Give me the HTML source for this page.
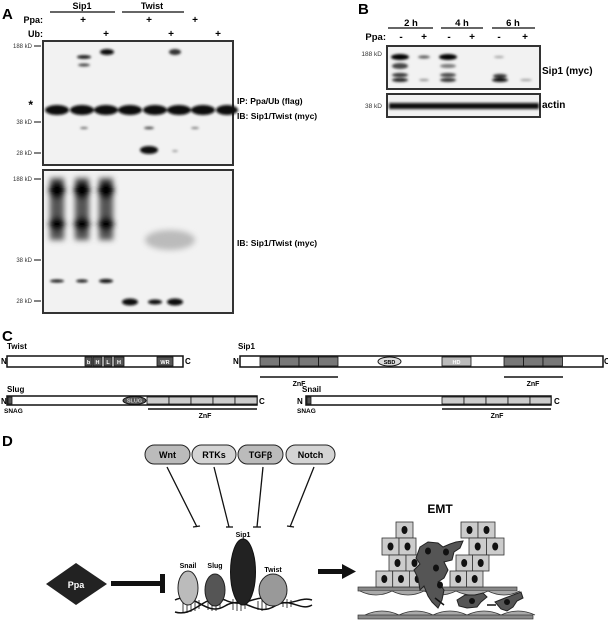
<!DOCTYPE html>
<html><head><meta charset="utf-8"><style>
html,body{margin:0;padding:0;background:#fff}
svg{display:block}
text{font-family:"Liberation Sans",sans-serif}
</style></head><body>
<svg width="608" height="620" viewBox="0 0 608 620" xmlns="http://www.w3.org/2000/svg">
<defs>
<filter id="b1" x="-50%" y="-50%" width="200%" height="200%"><feGaussianBlur stdDeviation="1.2"/></filter>
<filter id="b3" x="-50%" y="-50%" width="200%" height="200%"><feGaussianBlur stdDeviation="3"/></filter>
</defs>

<!-- Panel A -->
<text x="2" y="19" font-size="15" font-weight="bold">A</text>
<line x1="50" y1="12" x2="115" y2="12" stroke="#333" stroke-width="1.5"/>
<line x1="122" y1="12" x2="184" y2="12" stroke="#333" stroke-width="1.5"/>
<text x="82" y="9" font-size="9" font-weight="bold" text-anchor="middle">Sip1</text>
<text x="152" y="9" font-size="9" font-weight="bold" text-anchor="middle">Twist</text>
<text x="43" y="23" font-size="9" font-weight="bold" text-anchor="end">Ppa:</text>
<text x="43" y="37" font-size="9" font-weight="bold" text-anchor="end">Ub:</text>
<g font-size="10" font-weight="bold" text-anchor="middle">
<text x="83" y="23">+</text><text x="149" y="23">+</text><text x="195" y="23">+</text>
<text x="106" y="37">+</text><text x="171" y="37">+</text><text x="218" y="37">+</text>
</g>
<rect x="43" y="41" width="190" height="124" fill="#f2f2f2" stroke="#333" stroke-width="2"/>
<g fill="#111" filter="url(#b1)">
<ellipse cx="57" cy="110" rx="12" ry="5"/><ellipse cx="82" cy="110" rx="12" ry="5"/>
<ellipse cx="106" cy="110" rx="12" ry="5"/><ellipse cx="130" cy="110" rx="12" ry="5"/>
<ellipse cx="155" cy="110" rx="12" ry="5"/><ellipse cx="179" cy="110" rx="12" ry="5"/>
<ellipse cx="203" cy="110" rx="12" ry="5"/><ellipse cx="227" cy="110" rx="11" ry="5"/>
<ellipse cx="84" cy="57" rx="7" ry="1.8"/><ellipse cx="84" cy="65" rx="6" ry="1.5" fill="#444"/>
<ellipse cx="107" cy="52" rx="7" ry="3"/><ellipse cx="175" cy="52" rx="6" ry="3" fill="#333"/>
<ellipse cx="149" cy="150" rx="9" ry="4"/>
<ellipse cx="84" cy="128" rx="4" ry="1" fill="#666"/><ellipse cx="149" cy="128" rx="5" ry="1.2" fill="#444"/>
<ellipse cx="195" cy="128" rx="4" ry="1" fill="#777"/><ellipse cx="175" cy="151" rx="3" ry="1" fill="#999"/>
</g>
<g font-size="6" fill="#333" text-anchor="end">
<text x="32" y="48">188 kD</text><text x="32" y="124">38 kD</text><text x="32" y="155">28 kD</text>
<text x="32" y="181">188 kD</text><text x="32" y="262">38 kD</text><text x="32" y="303">28 kD</text>
</g>
<g stroke="#333" stroke-width="1.2">
<line x1="34" y1="46" x2="41" y2="46"/><line x1="34" y1="122" x2="41" y2="122"/><line x1="34" y1="153" x2="41" y2="153"/>
<line x1="34" y1="179" x2="41" y2="179"/><line x1="34" y1="260" x2="41" y2="260"/><line x1="34" y1="301" x2="41" y2="301"/>
</g>
<text x="33" y="109" font-size="12" font-weight="bold" text-anchor="end">*</text>
<text x="237" y="104" font-size="8.5" font-weight="bold">IP: Ppa/Ub (flag)</text>
<text x="237" y="119" font-size="8.5" font-weight="bold">IB: Sip1/Twist (myc)</text>

<rect x="43" y="170" width="190" height="143" fill="#f2f2f2" stroke="#333" stroke-width="2"/>
<g filter="url(#b3)">
<rect x="50" y="178" width="14" height="62" fill="#555"/><rect x="75" y="178" width="14" height="62" fill="#555"/><rect x="99" y="178" width="14" height="62" fill="#555"/>
<ellipse cx="57" cy="190" rx="8" ry="9" fill="#000"/><ellipse cx="82" cy="190" rx="8" ry="9" fill="#000"/><ellipse cx="106" cy="190" rx="8" ry="9" fill="#000"/>
<ellipse cx="57" cy="224" rx="8" ry="7" fill="#000"/><ellipse cx="82" cy="224" rx="8" ry="7" fill="#000"/><ellipse cx="106" cy="224" rx="8" ry="7" fill="#000"/>
<ellipse cx="170" cy="240" rx="25" ry="10" fill="#bbb"/>
</g>
<g fill="#111" filter="url(#b1)">
<ellipse cx="57" cy="281" rx="7" ry="1.5"/><ellipse cx="82" cy="281" rx="6" ry="1.5"/><ellipse cx="106" cy="281" rx="7" ry="2"/>
<ellipse cx="130" cy="302" rx="8" ry="3.5"/><ellipse cx="155" cy="302" rx="7" ry="2.5"/><ellipse cx="175" cy="302" rx="8" ry="3.5"/>
</g>
<text x="237" y="246" font-size="8.5" font-weight="bold">IB: Sip1/Twist (myc)</text>

<!-- Panel B -->
<text x="358" y="14" font-size="15" font-weight="bold">B</text>
<line x1="388" y1="28" x2="433" y2="28" stroke="#333" stroke-width="1.5"/>
<line x1="441" y1="28" x2="483" y2="28" stroke="#333" stroke-width="1.5"/>
<line x1="492" y1="28" x2="535" y2="28" stroke="#333" stroke-width="1.5"/>
<g font-size="9.5" font-weight="bold" text-anchor="middle">
<text x="411" y="26">2 h</text><text x="462" y="26">4 h</text><text x="513" y="26">6 h</text>
</g>
<text x="386" y="40" font-size="9.5" font-weight="bold" text-anchor="end">Ppa:</text>
<g font-size="10" font-weight="bold" text-anchor="middle">
<text x="401" y="40">-</text><text x="424" y="40">+</text><text x="449" y="40">-</text><text x="472" y="40">+</text><text x="499" y="40">-</text><text x="525" y="40">+</text>
</g>
<rect x="387" y="46" width="153" height="43" fill="#f2f2f2" stroke="#333" stroke-width="2"/>
<g filter="url(#b1)">
<ellipse cx="400" cy="57" rx="9" ry="3" fill="#000"/><ellipse cx="400" cy="66" rx="8" ry="3" fill="#444"/>
<ellipse cx="400" cy="75" rx="8" ry="2" fill="#333"/><ellipse cx="400" cy="80" rx="8" ry="2" fill="#222"/>
<ellipse cx="424" cy="57" rx="6" ry="1.5" fill="#555"/><ellipse cx="424" cy="80" rx="5" ry="1" fill="#888"/>
<ellipse cx="448" cy="57" rx="9" ry="3" fill="#000"/><ellipse cx="448" cy="66" rx="8" ry="2" fill="#777"/>
<ellipse cx="448" cy="75" rx="8" ry="2" fill="#444"/><ellipse cx="448" cy="80" rx="8" ry="2" fill="#333"/>
<ellipse cx="499" cy="57" rx="5" ry="1" fill="#999"/><ellipse cx="500" cy="76" rx="7" ry="2" fill="#333"/><ellipse cx="500" cy="80" rx="8" ry="2" fill="#111"/>
<ellipse cx="526" cy="80" rx="6" ry="1" fill="#999"/>
</g>
<rect x="387" y="94" width="153" height="23" fill="#f2f2f2" stroke="#333" stroke-width="2"/>
<rect x="389" y="103" width="150" height="6" fill="#111" filter="url(#b1)"/>
<text x="382" y="56" font-size="6.5" fill="#333" text-anchor="end">188 kD</text>
<text x="382" y="108" font-size="6.5" fill="#333" text-anchor="end">38 kD</text>
<text x="542" y="74" font-size="10" font-weight="bold">Sip1 (myc)</text>
<text x="542" y="108" font-size="10" font-weight="bold">actin</text>

<!-- Panel C -->
<text x="2" y="341" font-size="15" font-weight="bold">C</text>
<g font-size="8" font-weight="bold">
<text x="7" y="349">Twist</text><text x="238" y="349">Sip1</text><text x="7" y="392">Slug</text><text x="302" y="392">Snail</text>
<text x="1" y="364">N</text><text x="185" y="364">C</text>
<text x="233" y="364">N</text><text x="604" y="364">C</text>
<text x="1" y="404">N</text><text x="259" y="404">C</text>
<text x="297" y="404">N</text><text x="554" y="404">C</text>
</g>
<g stroke="#111" stroke-width="1.5" fill="#fff">
<rect x="7" y="356" width="176" height="11"/>
<rect x="240" y="356" width="363" height="11"/>
<rect x="7" y="396" width="250" height="9"/>
<rect x="306" y="396" width="245" height="9"/>
</g>
<g fill="#555" stroke="#111" stroke-width="0.8">
<rect x="85" y="357" width="7" height="9"/><rect x="93" y="357" width="9" height="9"/><rect x="104" y="357" width="8" height="9"/><rect x="114" y="357" width="10" height="9"/>
<rect x="157" y="357" width="16" height="9"/>
<rect x="260" y="357" width="19.5" height="9" fill="#777"/><rect x="279.5" y="357" width="19.5" height="9" fill="#777"/><rect x="299" y="357" width="19.5" height="9" fill="#777"/><rect x="318.5" y="357" width="19.5" height="9" fill="#777"/>
<rect x="504" y="357" width="19.5" height="9" fill="#777"/><rect x="523.5" y="357" width="19.5" height="9" fill="#777"/><rect x="543" y="357" width="19.5" height="9" fill="#777"/>
<rect x="442" y="357" width="29" height="9" fill="#bbb"/>
<rect x="8" y="397" width="4" height="7"/><rect x="307" y="397" width="4" height="7"/>
<rect x="147" y="397" width="22" height="7" fill="#ccc"/><rect x="169" y="397" width="22" height="7" fill="#ccc"/><rect x="191" y="397" width="22" height="7" fill="#ccc"/><rect x="213" y="397" width="22" height="7" fill="#ccc"/><rect x="235" y="397" width="22" height="7" fill="#ccc"/>
<rect x="442" y="397" width="22" height="7" fill="#ccc"/><rect x="464" y="397" width="22" height="7" fill="#ccc"/><rect x="486" y="397" width="22" height="7" fill="#ccc"/><rect x="508" y="397" width="22" height="7" fill="#ccc"/><rect x="530" y="397" width="21" height="7" fill="#ccc"/>
</g>
<ellipse cx="389.5" cy="361.5" rx="11.5" ry="4.5" fill="#ddd" stroke="#111"/>
<ellipse cx="134.5" cy="400.5" rx="11.5" ry="4" fill="#555" stroke="#111"/>
<g font-size="5.5" font-weight="bold" text-anchor="middle">
<text x="88.5" y="364" fill="#fff">b</text><text x="97.5" y="364" fill="#fff">H</text><text x="108" y="364" fill="#fff">L</text><text x="119" y="364" fill="#fff">H</text><text x="165" y="364" fill="#fff">WR</text>
<text x="389.5" y="364">SBD</text><text x="456.5" y="364" fill="#fff">HD</text><text x="134.5" y="402.5" fill="#ccc">SLUG</text>
</g>
<g stroke="#111" stroke-width="1.5">
<line x1="260" y1="377" x2="338" y2="377"/><line x1="504" y1="377" x2="563" y2="377"/>
<line x1="148" y1="409" x2="257" y2="409"/><line x1="442" y1="409" x2="551" y2="409"/>
</g>
<g font-size="7" font-weight="bold" text-anchor="middle">
<text x="299" y="386">ZnF</text><text x="533" y="386">ZnF</text><text x="205" y="418">ZnF</text><text x="497" y="418">ZnF</text>
</g>
<g font-size="6.5" font-weight="bold"><text x="4" y="413">SNAG</text><text x="297" y="413">SNAG</text></g>

<!-- Panel D -->
<text x="2" y="446" font-size="15" font-weight="bold">D</text>
<g fill="#ccc" stroke="#222" stroke-width="1">
<rect x="145" y="445" width="45" height="19" rx="9.5" fill="#bbb"/>
<rect x="192" y="445" width="44" height="19" rx="9.5" fill="#d4d4d4"/>
<rect x="238" y="445" width="45" height="19" rx="9.5" fill="#bbb"/>
<rect x="286" y="445" width="49" height="19" rx="9.5" fill="#d4d4d4"/>
</g>
<g font-size="9" font-weight="bold" text-anchor="middle">
<text x="167.5" y="458">Wnt</text><text x="214" y="458">RTKs</text><text x="260.5" y="458">TGFβ</text><text x="310.5" y="458">Notch</text>
</g>
<g stroke="#111" stroke-width="1.3">
<line x1="167" y1="467" x2="197" y2="527"/><line x1="193" y1="527" x2="200" y2="526"/>
<line x1="214" y1="467" x2="229" y2="527"/><line x1="226" y1="527" x2="233" y2="527"/>
<line x1="263" y1="467" x2="257" y2="527"/><line x1="253" y1="527" x2="261" y2="527"/>
<line x1="314" y1="467" x2="290" y2="527"/><line x1="287" y1="526" x2="294" y2="527"/>
</g>
<polygon points="46,584 76,563 107,584 76,605" fill="#222"/>
<text x="76" y="588" font-size="9" font-weight="bold" fill="#fff" text-anchor="middle">Ppa</text>
<rect x="111" y="581" width="52" height="5" fill="#111"/>
<rect x="160" y="574" width="5" height="19" fill="#111"/>
<!-- DNA -->
<g stroke="#111" stroke-width="1.5" fill="none">
<path d="M175,600 C195,590 205,618 225,606 C245,594 255,618 275,606 C290,596 300,612 312,605"/>
<path d="M175,612 C195,618 205,592 225,600 C245,610 255,592 275,600 C290,608 300,596 312,600"/>
</g>
<g stroke="#111" stroke-width="0.8">
<line x1="183" y1="598" x2="183" y2="613"/><line x1="187" y1="597" x2="187" y2="613"/><line x1="191" y1="597" x2="191" y2="612"/><line x1="195" y1="598" x2="195" y2="611"/><line x1="199" y1="600" x2="199" y2="609"/><line x1="208" y1="601" x2="208" y2="610"/><line x1="212" y1="600" x2="212" y2="611"/><line x1="216" y1="600" x2="216" y2="611"/><line x1="220" y1="601" x2="220" y2="608"/><line x1="233" y1="599" x2="233" y2="610"/><line x1="237" y1="598" x2="237" y2="611"/><line x1="241" y1="598" x2="241" y2="611"/><line x1="245" y1="599" x2="245" y2="609"/><line x1="258" y1="601" x2="258" y2="610"/><line x1="262" y1="600" x2="262" y2="611"/><line x1="266" y1="601" x2="266" y2="610"/><line x1="283" y1="600" x2="283" y2="607"/><line x1="287" y1="599" x2="287" y2="608"/><line x1="291" y1="600" x2="291" y2="607"/>
</g>
<ellipse cx="188" cy="588" rx="10" ry="17" fill="#bbb" stroke="#222"/>
<ellipse cx="215" cy="590" rx="10" ry="16" fill="#555" stroke="#222"/>
<ellipse cx="273" cy="590" rx="14" ry="16" fill="#999" stroke="#222"/>
<ellipse cx="243" cy="572" rx="12.5" ry="33" fill="#222" stroke="#111"/>
<g font-size="7" font-weight="bold" text-anchor="middle">
<text x="188" y="568">Snail</text><text x="215" y="568">Slug</text><text x="243" y="537">Sip1</text><text x="273" y="572">Twist</text>
</g>
<rect x="318" y="569" width="25" height="5" fill="#111"/>
<polygon points="342,564 356,571.5 342,579" fill="#111"/>
<text x="440" y="513" font-size="12" font-weight="bold" text-anchor="middle">EMT</text>
<!-- basal layers -->
<rect x="358" y="587" width="159" height="4" fill="#888" stroke="#333" stroke-width="0.7"/>
<path d="M360,591 q16,8 32,0 q16,8 32,0 q16,8 32,0 q16,8 32,0 q16,8 32,0" fill="#aaa" stroke="#333" stroke-width="0.7"/>
<path d="M365,615 q17,-8 34,0 q17,-8 34,0 q17,-8 34,0 q17,-8 34,0 q17,-8 34,0" fill="#aaa" stroke="#333" stroke-width="0.7"/>
<rect x="358" y="615" width="175" height="4" fill="#888" stroke="#333" stroke-width="0.7"/>
<!-- cells -->
<g fill="#ccc" stroke="#333" stroke-width="0.8">
<rect x="396" y="522" width="17" height="16"/>
<rect x="382" y="538" width="17" height="17"/><rect x="399" y="538" width="17" height="17"/>
<rect x="389" y="555" width="17" height="16"/><rect x="406" y="555" width="17" height="16"/>
<rect x="376" y="571" width="16.7" height="16"/><rect x="392.7" y="571" width="16.7" height="16"/><rect x="409.4" y="571" width="16.6" height="16"/>
<rect x="461" y="522" width="17" height="16"/><rect x="478" y="522" width="17" height="16"/>
<rect x="469" y="538" width="17.5" height="17"/><rect x="486.5" y="538" width="17.5" height="17"/>
<rect x="456" y="555" width="16.5" height="16"/><rect x="472.5" y="555" width="16.5" height="16"/>
<rect x="450" y="571" width="16.5" height="16"/><rect x="466.5" y="571" width="16.5" height="16"/>
</g>
<g fill="#111">
<ellipse cx="404.5" cy="530" rx="3" ry="4"/><ellipse cx="390.5" cy="546.5" rx="3" ry="4"/><ellipse cx="407.5" cy="546.5" rx="3" ry="4"/>
<ellipse cx="397.5" cy="563" rx="3" ry="4"/><ellipse cx="414.5" cy="563" rx="3" ry="4"/>
<ellipse cx="384.3" cy="579" rx="3" ry="4"/><ellipse cx="401" cy="579" rx="3" ry="4"/><ellipse cx="417.7" cy="579" rx="3" ry="4"/>
<ellipse cx="469.5" cy="530" rx="3" ry="4"/><ellipse cx="486.5" cy="530" rx="3" ry="4"/><ellipse cx="477.7" cy="546.5" rx="3" ry="4"/><ellipse cx="495.2" cy="546.5" rx="3" ry="4"/>
<ellipse cx="464.2" cy="563" rx="3" ry="4"/><ellipse cx="480.7" cy="563" rx="3" ry="4"/><ellipse cx="458.2" cy="579" rx="3" ry="4"/><ellipse cx="474.7" cy="579" rx="3" ry="4"/>
</g>
<!-- mesenchymal cells -->
<g fill="#555" stroke="#222" stroke-width="1">
<path d="M420,547 l8,-5 l10,1 l5,4 l7,-3 l6,-2 l7,-1 l-3,7 l-6,4 l-2,8 l-8,2 l4,8 l-4,8 l-6,4 l6,8 l-2,10 l-4,8 l-6,-6 l-4,-6 l-4,-10 l-4,4 l-2,-12 l-4,-8 l6,-6 l-4,-6 z"/>
<path d="M457,600 l8,-5 l10,0 l8,-2 l4,4 l-6,5 l-4,5 l-10,1 l-8,-2 z"/>
<path d="M495,602 l10,-4 l8,-3 l8,-3 l2,6 l-6,3 l-4,6 l-6,4 l-6,-2 z"/>
</g>
<g fill="#111"><ellipse cx="428" cy="551" rx="3" ry="3.5"/><ellipse cx="446" cy="552" rx="3" ry="3.5"/><ellipse cx="436" cy="568" rx="3" ry="3.5"/><ellipse cx="440" cy="585" rx="3" ry="3.5"/><ellipse cx="472" cy="601" rx="3" ry="3"/><ellipse cx="507" cy="602" rx="3" ry="3"/></g>
<line x1="435" y1="598" x2="444" y2="605" stroke="#111" stroke-width="1.5"/>
<line x1="487" y1="605" x2="496" y2="605" stroke="#111" stroke-width="1.5"/>
</svg>
</body></html>
